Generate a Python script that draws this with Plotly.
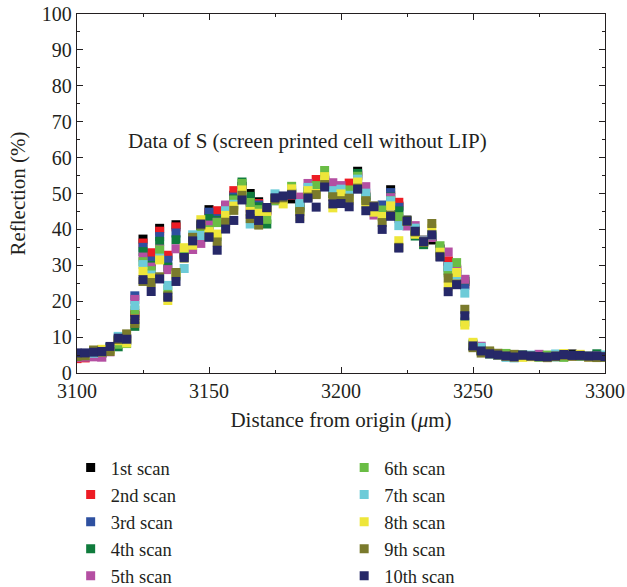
import plotly.graph_objects as go

distance_um = [
    3100.0, 3103.1, 3106.3, 3109.4, 3112.5, 3115.6, 3118.8, 3121.9, 3125.0, 3128.1,
    3131.3, 3134.4, 3137.5, 3140.6, 3143.8, 3146.9, 3150.0, 3153.1, 3156.3, 3159.4,
    3162.5, 3165.6, 3168.8, 3171.9, 3175.0, 3178.1, 3181.3, 3184.4, 3187.5, 3190.6,
    3193.8, 3196.9, 3200.0, 3203.1, 3206.3, 3209.4, 3212.5, 3215.6, 3218.8, 3221.9,
    3225.0, 3228.1, 3231.3, 3234.4, 3237.5, 3240.6, 3243.8, 3246.9, 3250.0, 3253.1,
    3256.3, 3259.4, 3262.5, 3265.6, 3268.8, 3271.9, 3275.0, 3278.1, 3281.3, 3284.4,
    3287.5, 3290.6, 3293.8, 3296.9, 3300.0,
]

scan1 = [
    4.8, 5.0, 5.5, 5.8, 7.0, 9.0, 9.5, 16.0, 37.3, 32.5,
    40.3, 32.5, 41.3, 33.5, 37.5, 41.0, 45.5, 43.7, 46.5, 49.5,
    52.0, 50.0, 47.7, 45.5, 48.5, 49.0, 48.5, 46.5, 50.5, 52.0,
    53.5, 50.0, 49.0, 50.5, 56.2, 49.0, 46.0, 44.5, 51.05, 46.5,
    42.6, 39.5, 37.0, 37.05, 34.5, 31.0, 28.5, 25.5, 7.8, 6.5,
    5.5, 5.0, 4.8, 4.5, 4.9, 4.7, 4.5, 4.4, 4.6, 5.0,
    5.3, 4.8, 4.6, 4.8, 4.5,
]
scan2 = [
    4.0, 4.2, 5.2, 5.6, 6.8, 8.8, 9.2, 16.6, 36.2, 33.5,
    39.5, 32.8, 40.7, 33.0, 37.0, 40.5, 44.5, 45.2, 46.3, 50.8,
    51.5, 47.8, 47.2, 45.3, 48.2, 48.8, 49.5, 46.0, 50.0, 53.9,
    53.8, 50.5, 49.5, 52.9, 55.0, 49.5, 46.5, 44.8, 49.5, 47.55,
    42.0, 39.8, 36.8, 38.0, 34.0, 31.25, 28.8, 24.8, 7.6, 6.3,
    5.4, 4.9, 4.9, 4.6, 4.8, 4.6, 4.6, 4.3, 4.7, 4.9,
    4.8, 4.7, 4.5, 4.7, 4.4,
]
scan3 = [
    5.0, 5.1, 5.6, 5.9, 7.0, 9.2, 9.6, 21.5, 35.0, 31.2,
    38.0, 31.4, 39.0, 33.3, 37.3, 40.8, 44.8, 43.0, 45.8, 49.0,
    51.8, 48.5, 46.8, 45.8, 48.0, 49.2, 49.8, 46.8, 50.5, 51.5,
    53.0, 51.0, 49.8, 50.0, 55.2, 49.0, 46.0, 46.8, 50.25, 46.15,
    42.2, 39.6, 36.5, 38.2, 34.5, 29.5, 28.0, 24.45, 7.7, 6.6,
    5.6, 5.1, 4.7, 4.4, 5.0, 4.7, 4.5, 4.4, 4.6, 5.0,
    4.9, 4.8, 4.6, 4.8, 4.5,
]
scan4 = [
    4.7, 4.9, 5.3, 5.5, 6.5, 7.3, 9.0, 13.0, 33.8, 30.0,
    36.7, 29.5, 37.1, 32.8, 36.5, 39.8, 43.0, 42.5, 45.0, 48.5,
    53.2, 49.2, 46.3, 41.5, 48.6, 48.5, 50.0, 45.5, 50.2, 51.0,
    54.0, 50.0, 49.0, 50.5, 55.6, 48.5, 45.8, 45.0, 49.0, 45.15,
    41.8, 38.15, 35.75, 38.0, 34.3, 28.5, 27.5, 26.0, 7.5, 6.2,
    5.3, 5.0, 4.8, 4.5, 4.9, 4.6, 4.4, 4.3, 4.5, 4.8,
    4.8, 4.7, 4.5, 5.35, 4.4,
]
scan5 = [
    4.3, 4.4, 4.5, 4.4, 5.9, 8.5, 9.3, 20.5, 32.3, 29.5,
    34.5, 28.8, 34.6, 33.6, 34.4, 36.1, 41.2, 42.0, 46.8, 48.0,
    51.0, 46.0, 45.0, 45.2, 48.3, 49.0, 50.3, 49.0, 52.8, 50.5,
    53.5, 53.0, 52.2, 50.0, 54.5, 51.9, 44.0, 44.0, 48.85, 43.0,
    40.95, 41.05, 36.8, 37.75, 34.5, 33.7, 29.0, 26.1, 7.9, 7.45,
    5.5, 5.2, 4.9, 4.6, 4.8, 4.7, 5.2, 4.4, 4.6, 5.0,
    4.7, 4.8, 4.6, 4.8, 4.5,
]
scan6 = [
    5.0, 5.0, 6.0, 6.2, 6.8, 8.0, 8.2, 17.5, 31.0, 28.5,
    34.3, 23.3, 27.5, 33.2, 37.0, 39.8, 39.9, 41.9, 44.5, 48.2,
    52.8, 47.5, 45.5, 42.8, 48.0, 48.7, 52.0, 46.0, 50.5, 52.2,
    56.4, 50.0, 49.5, 51.0, 54.8, 49.0, 46.0, 45.4, 48.0, 43.55,
    42.3, 39.5, 36.5, 38.5, 35.45, 27.9, 30.75, 14.2, 8.0, 6.4,
    5.6, 5.1, 5.45, 4.5, 5.0, 4.6, 4.6, 5.0, 4.6, 4.35,
    4.8, 4.7, 4.7, 4.7, 4.4,
]
scan7 = [
    4.9, 5.2, 5.5, 5.9, 7.2, 10.2, 9.2, 18.8, 30.2, 27.3,
    32.0, 24.4, 27.0, 29.1, 38.5, 38.3, 38.5, 38.0, 45.2, 47.0,
    50.0, 41.5, 44.0, 45.6, 49.9, 49.1, 50.8, 47.2, 51.7, 50.0,
    53.2, 50.8, 51.2, 49.5, 54.0, 50.1, 46.5, 43.5, 47.95, 41.05,
    42.2, 40.35, 36.8, 38.5, 33.5, 29.65, 27.25, 22.25, 8.2, 7.15,
    5.4, 4.9, 4.35, 4.2, 4.9, 5.0, 4.5, 4.4, 5.3, 5.0,
    4.9, 4.8, 4.6, 4.8, 5.0,
]
scan8 = [
    5.2, 5.3, 6.3, 6.6, 6.3, 9.0, 8.4, 14.5, 28.3, 26.5,
    31.5, 20.2, 27.2, 34.9, 35.6, 42.7, 39.4, 38.7, 43.9, 46.5,
    51.0, 45.0, 44.5, 45.0, 48.5, 47.1, 51.3, 43.5, 50.8, 50.0,
    54.7, 46.0, 49.9, 48.0, 53.2, 47.0, 44.8, 43.6, 46.55, 36.85,
    42.2, 38.65, 36.6, 40.2, 33.65, 24.2, 28.0, 13.35, 8.55, 6.0,
    6.0, 5.0, 4.7, 4.4, 4.35, 4.5, 4.5, 4.3, 4.7, 5.4,
    4.8, 5.2, 4.5, 4.7, 4.5,
]
scan9 = [
    4.6, 4.8, 6.4, 5.8, 6.0, 9.3, 10.9, 13.8, 25.5, 25.2,
    26.8, 21.5, 28.0, 32.0, 37.8, 41.2, 38.0, 36.5, 42.0, 45.3,
    49.5, 43.0, 41.2, 46.0, 48.4, 48.8, 49.8, 45.0, 49.0, 49.7,
    52.5, 49.1, 48.0, 48.7, 51.5, 48.0, 46.5, 41.9, 44.0, 35.0,
    42.3, 39.3, 36.4, 41.65, 32.5, 26.45, 24.8, 17.75, 7.05, 5.55,
    6.15, 5.5, 4.7, 5.2, 4.9, 4.7, 4.6, 4.4, 4.6, 4.9,
    4.7, 4.8, 4.5, 4.3, 4.4,
]
scan10 = [
    5.6, 5.6, 5.8, 6.0, 7.4, 9.7, 9.4, 14.9, 26.0, 22.7,
    26.2, 21.1, 25.5, 32.2, 36.8, 41.5, 37.8, 34.2, 40.1, 42.5,
    48.2, 44.2, 42.5, 46.1, 48.8, 49.3, 49.6, 43.0, 48.7, 46.2,
    51.8, 47.1, 47.2, 46.3, 51.2, 45.2, 46.3, 40.0, 43.65, 34.8,
    42.3, 39.5, 36.6, 38.5, 32.3, 22.65, 24.6, 15.95, 7.55, 6.15,
    5.35, 5.0, 4.75, 4.45, 5.0, 4.75, 4.6, 4.45, 4.75, 5.15,
    4.9, 4.9, 4.75, 4.8, 4.55,
]

scan_names = ["1st scan", "2nd scan", "3rd scan", "4th scan", "5th scan",
              "6th scan", "7th scan", "8th scan", "9th scan", "10th scan"]
scan_values = [scan1, scan2, scan3, scan4, scan5, scan6, scan7, scan8, scan9, scan10]
scan_colors = ["#000000", "#ED1C24", "#2E50A0", "#0F7B3C", "#B44FA2",
               "#6ABD45", "#6DCBD8", "#EEE63A", "#7A7A2C", "#262868"]

FONT = "Liberation Serif"
TXT = "#231F20"

fig = go.Figure()
for k, (name, vals, col) in enumerate(zip(scan_names, scan_values, scan_colors)):
    fig.add_trace(go.Scatter(
        x=distance_um, y=vals, name=name, mode="markers",
        marker=dict(symbol="square", size=9, color=col, line=dict(width=0)),
        legend="legend" if k < 5 else "legend2",
        legendgroup=name,
    ))

axis_common = dict(
    showgrid=False, zeroline=False, showline=True, linecolor="#231F20", linewidth=1.3,
    mirror="allticks", ticks="inside", ticklen=6, tickwidth=1, tickcolor="#231F20",
    tickfont=dict(family=FONT, size=20, color=TXT), automargin=False,
)

fig.update_xaxes(
    range=[3100, 3300], tickvals=[3100, 3150, 3200, 3250, 3300],
    minor=dict(ticks="inside", ticklen=3, dtick=25, tick0=3100, tickcolor="#231F20"),
    title=dict(text="Distance from origin (<i>μ</i>m)", font=dict(family=FONT, size=21, color=TXT), standoff=11),
    **axis_common,
)
fig.update_yaxes(
    range=[0, 100], dtick=10,
    minor=dict(ticks="inside", ticklen=3, dtick=5, tick0=0, tickcolor="#231F20"),
    title=dict(text="Reflection (%)", font=dict(family=FONT, size=21, color=TXT), standoff=10),
    **axis_common,
)

legend_common = dict(
    font=dict(family=FONT, size=18.5, color=TXT), bgcolor="rgba(0,0,0,0)",
    yanchor="top", xanchor="left", orientation="v", tracegroupgap=0,
    yref="container", xref="paper",
)
fig.update_layout(
    width=627, height=587,
    margin=dict(l=77, r=22, t=14, b=214),
    paper_bgcolor="white", plot_bgcolor="white",
    showlegend=True,
    legend=dict(x=-0.012, y=1 - 449 / 587, **legend_common),
    legend2=dict(x=0.506, y=1 - 449 / 587, **legend_common),
    annotations=[dict(
        text="Data of S (screen printed cell without LIP)", xref="paper", yref="paper",
        x=0.436, y=0.646, showarrow=False, font=dict(family=FONT, size=21, color=TXT),
    )],
)

fig.write_html("out.html")
